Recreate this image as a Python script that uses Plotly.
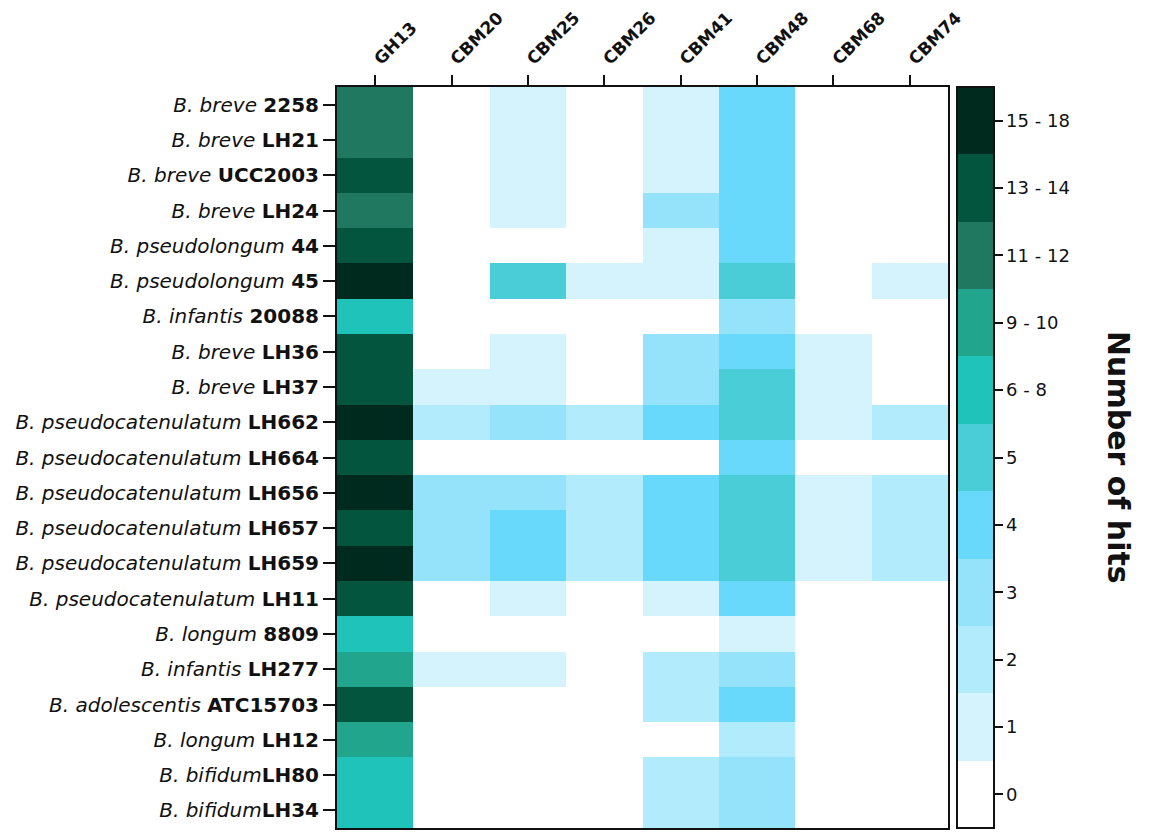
import plotly.graph_objects as go

# ---------------- data ----------------
species = ["B. breve", "B. breve", "B. breve", "B. breve", "B. pseudolongum", "B. pseudolongum",
           "B. infantis", "B. breve", "B. breve", "B. pseudocatenulatum", "B. pseudocatenulatum",
           "B. pseudocatenulatum", "B. pseudocatenulatum", "B. pseudocatenulatum",
           "B. pseudocatenulatum", "B. longum", "B. infantis", "B. adolescentis", "B. longum",
           "B. bifidum", "B. bifidum"]
strains = ["2258", "LH21", "UCC2003", "LH24", "44", "45", "20088", "LH36", "LH37", "LH662",
           "LH664", "LH656", "LH657", "LH659", "LH11", "8809", "LH277", "ATC15703", "LH12",
           "LH80", "LH34"]
separators = [" "] * 19 + ["", ""]
families = ["GH13", "CBM20", "CBM25", "CBM26", "CBM41", "CBM48", "CBM68", "CBM74"]

# number of hits per strain (rows) and family (columns)
hits = [
    [12, 0, 1, 0, 1, 4, 0, 0],
    [12, 0, 1, 0, 1, 4, 0, 0],
    [14, 0, 1, 0, 1, 4, 0, 0],
    [12, 0, 1, 0, 3, 4, 0, 0],
    [14, 0, 0, 0, 1, 4, 0, 0],
    [16, 0, 5, 1, 1, 5, 0, 1],
    [7, 0, 0, 0, 0, 3, 0, 0],
    [14, 0, 1, 0, 3, 4, 1, 0],
    [14, 1, 1, 0, 3, 5, 1, 0],
    [16, 2, 3, 2, 4, 5, 1, 2],
    [14, 0, 0, 0, 0, 4, 0, 0],
    [16, 3, 3, 2, 4, 5, 1, 2],
    [14, 3, 4, 2, 4, 5, 1, 2],
    [16, 3, 4, 2, 4, 5, 1, 2],
    [14, 0, 1, 0, 1, 4, 0, 0],
    [7, 0, 0, 0, 0, 1, 0, 0],
    [10, 1, 1, 0, 2, 3, 0, 0],
    [14, 0, 0, 0, 2, 4, 0, 0],
    [10, 0, 0, 0, 0, 2, 0, 0],
    [7, 0, 0, 0, 2, 3, 0, 0],
    [7, 0, 0, 0, 2, 3, 0, 0],
]

# colour classes: upper bound of each bin, labels and colours
bin_upper = [0, 1, 2, 3, 4, 5, 8, 10, 12, 14, 18]
bin_labels = ["0", "1", "2", "3", "4", "5", "6 - 8", "9 - 10", "11 - 12", "13 - 14", "15 - 18"]
bin_colors = ["#FFFFFF", "#D5F3FC", "#B2EBFB", "#94E3FA", "#69D9FB", "#4ACDD6",
              "#1FC3B9", "#22A58D", "#217860", "#03553D", "#012A1E"]


def to_bin(v):
    for i, ub in enumerate(bin_upper):
        if v <= ub:
            return i
    return len(bin_upper) - 1


z = [[to_bin(v) for v in row] for row in hits]
nb = len(bin_colors)
colorscale = []
for i, c in enumerate(bin_colors):
    colorscale.append([i / nb, c])
    colorscale.append([(i + 1) / nb, c])

ytext = [f"<i>{s}</i>{sep}<b>{st}</b>" for s, sep, st in zip(species, separators, strains)]

FONT = "DejaVu Sans, Liberation Sans, Arial, sans-serif"
INK = "#111111"

CB_X = 1.0147      # colorbar left edge (paper fraction)
PLOT_W = 611       # plot-area width in px

fig = go.Figure(go.Heatmap(
    z=z,
    x=list(range(len(families))),
    y=list(range(len(strains))),
    customdata=hits,
    colorscale=colorscale,
    zmin=-0.5, zmax=nb - 0.5,
    hovertemplate="%{customdata}<extra></extra>",
    colorbar=dict(
        tickvals=list(range(nb)),
        ticktext=bin_labels,
        ticks="outside", ticklen=8, tickwidth=2, tickcolor=INK,
        tickfont=dict(family=FONT, size=18, color=INK),
        thickness=37, len=1.0, lenmode="fraction",
        x=CB_X, xanchor="left", xpad=0,
        y=0.5, yanchor="middle", ypad=0,
        outlinewidth=2, outlinecolor=INK,
    ),
))

# inner tick marks on the left edge of the colour bar (one per class)
for i in range(nb):
    yc = (i + 0.5) / nb
    fig.add_shape(type="line", xref="paper", yref="paper",
                  x0=CB_X, x1=CB_X + 7 / PLOT_W, y0=yc, y1=yc,
                  line=dict(color=INK, width=2))

fig.update_xaxes(
    side="top",
    tickvals=list(range(len(families))), ticktext=[f"<b>{f}</b>" for f in families],
    tickangle=-45, tickfont=dict(family=FONT, size=17, color=INK),
    ticks="outside", ticklen=10, tickwidth=2, tickcolor=INK,
    showline=True, linewidth=2, linecolor=INK, mirror=True,
    showgrid=False, zeroline=False, range=[-0.5, len(families) - 0.5],
)
fig.update_yaxes(
    tickvals=list(range(len(strains))), ticktext=ytext,
    tickfont=dict(family=FONT, size=20, color=INK),
    ticks="outside", ticklen=12, tickwidth=2, tickcolor=INK,
    showline=True, linewidth=2, linecolor=INK, mirror=True,
    showgrid=False, zeroline=False, range=[len(strains) - 0.5, -0.5],
)

fig.add_annotation(
    text="<b>Number of hits</b>", xref="paper", yref="paper",
    x=1.311, y=0.5, showarrow=False, textangle=90,
    font=dict(family=FONT, size=30, color=INK),
)

fig.update_layout(
    width=1152, height=832,
    margin=dict(l=337, r=204, t=87, b=2),
    paper_bgcolor="white", plot_bgcolor="white",
    font=dict(family=FONT, color=INK),
)

fig.write_html("out.html", config={"displayModeBar": False},
               post_script="document.body.style.margin='0';")
